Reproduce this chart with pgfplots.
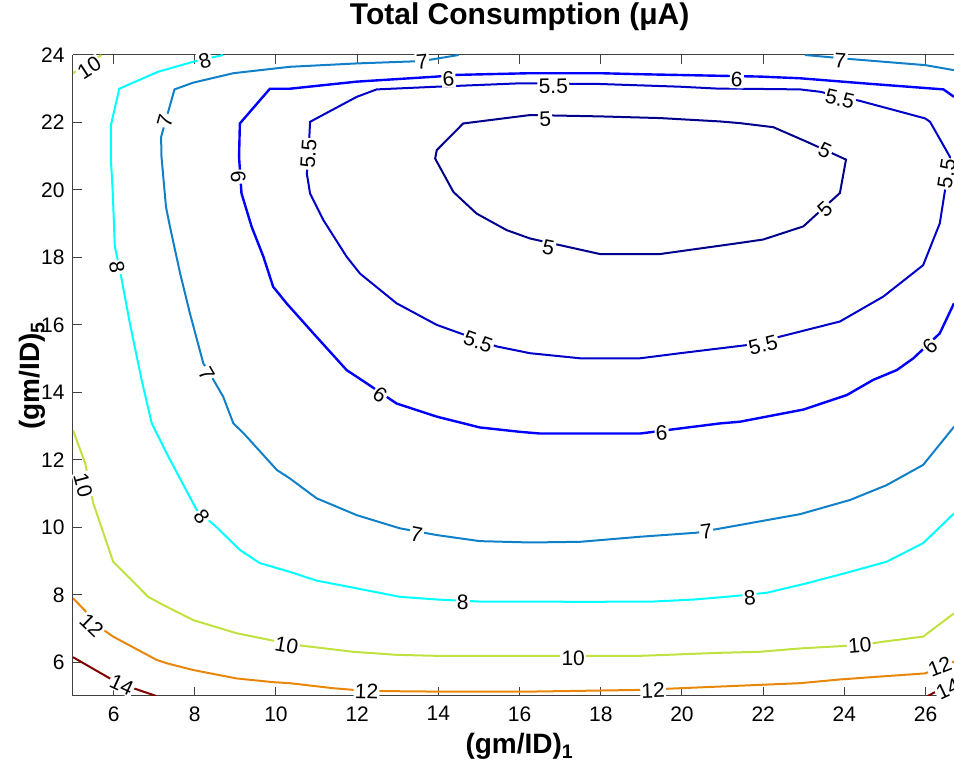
\documentclass[border=0pt]{standalone}
\usepackage{fontspec}
\setmainfont{Liberation Sans}
\usepackage{pgfplots}
\pgfplotsset{compat=1.18}
\usetikzlibrary{calc}
\definecolor{cfive}{RGB}{0,0,140}
\definecolor{cfivefive}{RGB}{0,0,200}
\definecolor{csix}{RGB}{0,0,255}
\definecolor{cseven}{RGB}{16,128,200}
\definecolor{ceight}{RGB}{0,255,255}
\definecolor{cten}{RGB}{192,226,64}
\definecolor{ctwelve}{RGB}{232,135,10}
\definecolor{cfourteen}{RGB}{128,0,0}
\begin{document}
\begin{tikzpicture}
\begin{axis}[
  name=ax,
  width=440.5pt, height=320.5pt, scale only axis,
  xmin=5, xmax=26.7, ymin=5, ymax=24,
  axis x line*=box, axis y line*=left,
  xtick={6,8,...,26}, ytick={6,8,...,24},
  tick align=inside, major tick length=4.5pt,
  axis line style={black!75, line width=0.5pt},
  tick style={black!75, line width=0.5pt},
  /pgf/number format/assume math mode=true,
  tick label style={font=\fontsize{10.5}{12}\selectfont, inner sep=0pt},
  xticklabel style={anchor=north, yshift=-5pt},
  yticklabel style={anchor=east, xshift=-4pt},
  title={Total Consumption (μA)},
  title style={font=\fontsize{15}{18}\selectfont\bfseries, at={(axis description cs:0.507,1.0296)}, anchor=base},
  xlabel={(gm/ID)\textsubscript{1}},
  ylabel={(gm/ID)\textsubscript{5}},
  label style={font=\fontsize{14}{16}\selectfont\bfseries},
  xlabel style={at={(axis description cs:0.507,-0.0905)}, anchor=base},
  ylabel style={at={(axis description cs:-0.0375,0.5)}, anchor=base, rotate=0},
]
% level 14
\addplot[cfourteen, line width=1pt] coordinates {(5.0,6.15)(5.91,5.52)(6.49,5.23)(7.05,5.0)};
\addplot[cfourteen, line width=1pt] coordinates {(26.05,5.0)(26.7,5.4)};
% level 12
\addplot[ctwelve, line width=1pt] coordinates {(5.0,7.9)(5.75,6.96)(5.99,6.76)(7.06,6.07)(7.31,5.97)(7.96,5.77)(9.03,5.52)(9.93,5.41)(10.34,5.38)(11.41,5.23)(12.23,5.15)(13.96,5.13)(16.26,5.13)(18.97,5.18)(19.95,5.23)(21.92,5.33)(22.91,5.38)(23.89,5.49)(25.04,5.59)(25.99,5.67)(26.7,6.02)};
% level 10
\addplot[cten, line width=1pt] coordinates {(5.0,12.88)(5.3,11.9)(5.5,10.71)(5.99,8.98)(6.4,8.49)(6.85,7.94)(7.22,7.7)(7.96,7.25)(9.03,6.86)(9.93,6.64)(10.51,6.51)(11.9,6.31)(12.97,6.22)(13.96,6.19)(16.26,6.19)(18.97,6.19)(20.94,6.28)(21.92,6.31)(22.91,6.41)(24.38,6.51)(24.96,6.61)(25.94,6.76)(26.7,7.45)};
\addplot[cten, line width=1pt] coordinates {(5.0,23.46)(5.7,24.0)};
% level 8
\addplot[ceight, line width=1pt] coordinates {(8.70,24.0)(7.96,23.8)(7.09,23.5)(6.14,23.0)(5.93,21.9)(5.93,20.98)(5.98,19.9)(6.03,18.32)(6.16,17.6)(6.4,16.05)(6.69,14.37)(6.94,13.08)(7.39,12.0)(8.05,10.51)(8.54,10.0)(9.11,9.33)(9.6,8.94)(10.34,8.68)(11.0,8.42)(11.99,8.19)(13.05,7.94)(13.96,7.86)(15.0,7.8)(16.26,7.8)(17.5,7.79)(19.3,7.8)(20.3,7.86)(21.1,7.94)(22.09,8.06)(23.07,8.34)(24.14,8.68)(25.04,8.98)(25.94,9.53)(26.7,10.41)};
% level 7
\addplot[cseven, line width=1pt] coordinates {(14.5,24.0)(13.6,23.82)(11.99,23.75)(10.34,23.65)(8.95,23.46)(7.96,23.18)(7.5,22.98)(7.17,21.57)(7.18,20.98)(7.29,19.5)(7.39,18.9)(7.64,17.52)(7.88,16.34)(8.21,14.86)(8.46,14.37)(8.7,13.87)(8.95,13.08)(9.2,12.79)(10.02,11.7)(10.34,11.45)(11.0,10.86)(11.99,10.36)(13.05,9.97)(13.96,9.77)(15.02,9.59)(16.26,9.55)(17.49,9.57)(18.97,9.72)(20.36,9.84)(21.43,10.07)(22.91,10.39)(24.14,10.81)(25.04,11.25)(25.94,11.85)(26.7,12.98)};
\addplot[cseven, line width=1pt] coordinates {(23.03,24.0)(24.14,23.88)(25.99,23.7)(26.7,23.55)};
% level 6
\addplot[csix, line width=1.2pt] coordinates {(26.7,22.76)(26.44,22.98)(24.47,23.16)(22.91,23.31)(21.92,23.36)(18.97,23.43)(17.98,23.46)(17.0,23.46)(16.26,23.46)(14.45,23.41)(13.96,23.36)(11.99,23.21)(10.34,23.0)(9.85,23.0)(9.11,21.97)(9.09,20.98)(9.15,19.9)(9.4,18.91)(9.69,18.02)(9.93,17.13)(10.26,16.64)(10.92,15.75)(11.74,14.66)(12.23,14.27)(12.97,13.67)(13.96,13.28)(15.02,12.96)(16.01,12.83)(16.5,12.78)(18.97,12.78)(19.95,12.93)(20.94,13.08)(21.43,13.13)(22.99,13.49)(24.06,13.92)(24.71,14.37)(25.29,14.66)(25.7,15.01)(26.35,15.75)(26.7,16.64)};
% level 5.5
\addplot[cfivefive, line width=1pt] coordinates {(16.0,23.16)(13.96,23.06)(12.48,22.98)(11.99,22.76)(10.84,22.02)(10.8,21.07)(10.76,20.48)(10.84,19.89)(11.17,19.1)(11.74,18.02)(12.07,17.52)(12.97,16.64)(13.96,16.0)(15.44,15.36)(16.26,15.16)(17.49,15.01)(18.97,15.01)(19.95,15.16)(21.59,15.4)(22.41,15.65)(23.89,16.1)(24.96,16.84)(25.94,17.77)(26.35,19.01)(26.48,20.0)(26.6,20.98)(26.11,22.02)(25.99,22.12)(24.38,22.64)(23.4,22.91)(22.91,22.98)(21.43,23.0)(20.94,23.0)(19.95,23.06)(17.98,23.14)(16.0,23.16)};
% level 5
\addplot[cfive, line width=1pt] coordinates {(16.26,22.22)(14.61,21.97)(13.96,21.18)(13.92,20.93)(14.37,19.94)(14.94,19.3)(15.68,18.81)(16.26,18.56)(17.98,18.1)(19.46,18.1)(21.43,18.43)(22.0,18.53)(22.99,18.92)(23.89,19.91)(24.04,20.9)(23.07,21.43)(22.25,21.86)(21.43,21.98)(20.94,22.03)(19.46,22.13)(17.98,22.18)(16.26,22.22)};
% contour labels
\addplot[draw=none, mark=none, nodes near coords, point meta=explicit symbolic,
  visualization depends on={value \thisrow{a}\as\ang},
  nodes near coords align={center},
  nodes near coords style={rotate=\ang, anchor=center, fill=white, inner sep=0.6pt, text=black, font=\fontsize{10.5}{12}\selectfont}]
  table[x=x, y=y, meta=t] {
x y a t
5.40 23.62 33 10
8.25 23.84 17 8
13.6 23.80 5 7
23.9 23.84 -4 7
14.25 23.30 4 6
21.35 23.27 -2 6
16.83 23.08 1 5.5
23.89 22.70 -13 5.5
16.63 22.10 2 5
23.52 21.16 -25 5
23.52 19.44 42 5
16.71 18.30 -11 5
26.52 20.48 81 5.5
10.80 21.07 86 5.5
14.98 15.50 -20 5.5
22.00 15.40 14 5.5
9.07 20.39 -86 6
12.56 13.94 -34 6
19.50 12.80 3 6
26.11 15.36 43 6
7.27 22.06 74 7
8.29 14.56 -60 7
13.46 9.79 -11 7
20.60 9.86 8 7
6.08 17.70 -81 8
8.17 10.31 -52 8
14.60 7.79 0 8
21.67 7.92 5 8
5.25 11.25 -75 10
10.26 6.51 -10 10
17.32 6.12 0 10
24.38 6.51 5 10
5.46 7.10 -44 12
12.23 5.13 -2 12
19.29 5.16 2 12
26.35 5.87 21 12
6.20 5.33 -25 14
26.55 5.20 25 14
};
\end{axis}
\pgfresetboundingbox
\path[use as bounding box] ($(ax.south west)+(-36.5pt,-36.5pt)$) rectangle ($(ax.north east)+(0pt,27.5pt)$);
\end{tikzpicture}
\end{document}
